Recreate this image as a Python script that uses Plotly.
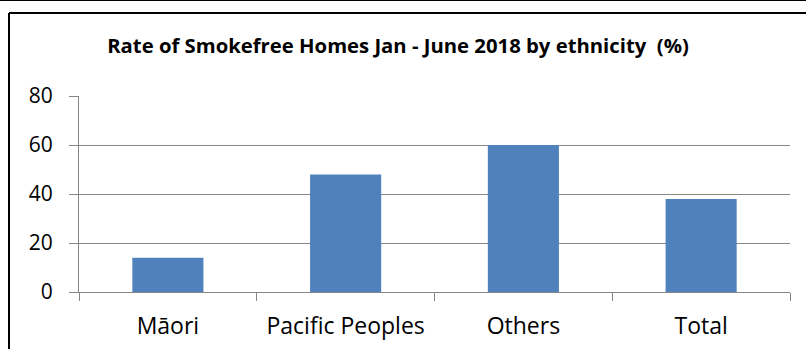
import plotly.graph_objects as go

# Smokefree home rates, Jan - June 2018, by ethnicity (%)
categories = ["Māori", "Pacific Peoples", "Others", "Total"]
rates = [14, 48, 60, 38]
y_ticks = [0, 20, 40, 60, 80]

BAR_COLOR = "#4F81BD"
GRID_COLOR = "#868686"
FONT = "Open Sans"

fig = go.Figure(
    go.Bar(
        x=categories,
        y=rates,
        marker=dict(color=BAR_COLOR, line=dict(width=0)),
        width=0.4,
    )
)

W, H = 806, 349
ml, mr, mt, mb = 79, 16, 96, 57
pw, ph = W - ml - mr, H - mt - mb


def px_x(px):
    return (px - ml) / pw


def px_y(py):
    return (H - mb - py) / ph


fig.update_layout(
    width=W,
    height=H,
    margin=dict(l=ml, r=mr, t=mt, b=mb, autoexpand=False),
    paper_bgcolor="white",
    plot_bgcolor="white",
    showlegend=False,
    bargap=0.6,
    title=dict(
        text="<b>Rate of Smokefree Homes Jan - June 2018 by ethnicity\u00a0\u00a0(%)</b>",
        x=px_x(398),
        xref="paper",
        xanchor="center",
        y=1 - 46 / H,
        yref="container",
        yanchor="middle",
        font=dict(family=FONT, size=20.3, color="black"),
    ),
    xaxis=dict(
        type="category",
        automargin=False,
        tickson="boundaries",
        ticks="outside",
        ticklen=8,
        tickcolor=GRID_COLOR,
        tickwidth=1.3,
        showline=True,
        linecolor=GRID_COLOR,
        linewidth=1.3,
        showgrid=False,
        tickfont=dict(family=FONT, size=23, color="black"),
        ticklabelstandoff=13,
    ),
    yaxis=dict(
        range=[0, 80],
        automargin=False,
        tickvals=y_ticks,
        ticks="outside",
        ticklen=9,
        tickcolor=GRID_COLOR,
        tickwidth=1.3,
        showline=True,
        linecolor=GRID_COLOR,
        linewidth=1.3,
        showgrid=True,
        gridcolor=GRID_COLOR,
        gridwidth=1.3,
        zeroline=False,
        tickfont=dict(family=FONT, size=21, color="black"),
        ticklabelstandoff=12,
    ),
    shapes=[
        # thin rule along the very top
        dict(type="line", xref="paper", yref="paper",
             x0=px_x(0), x1=px_x(W), y0=px_y(0.5), y1=px_y(0.5),
             line=dict(color="black", width=1)),
        # chart frame: top and left edges
        dict(type="line", xref="paper", yref="paper",
             x0=px_x(9), x1=px_x(W), y0=px_y(13), y1=px_y(13),
             line=dict(color="black", width=2)),
        dict(type="line", xref="paper", yref="paper",
             x0=px_x(9), x1=px_x(9), y0=px_y(13), y1=px_y(H),
             line=dict(color="black", width=2)),
    ],
)

fig.write_html("out.html")
